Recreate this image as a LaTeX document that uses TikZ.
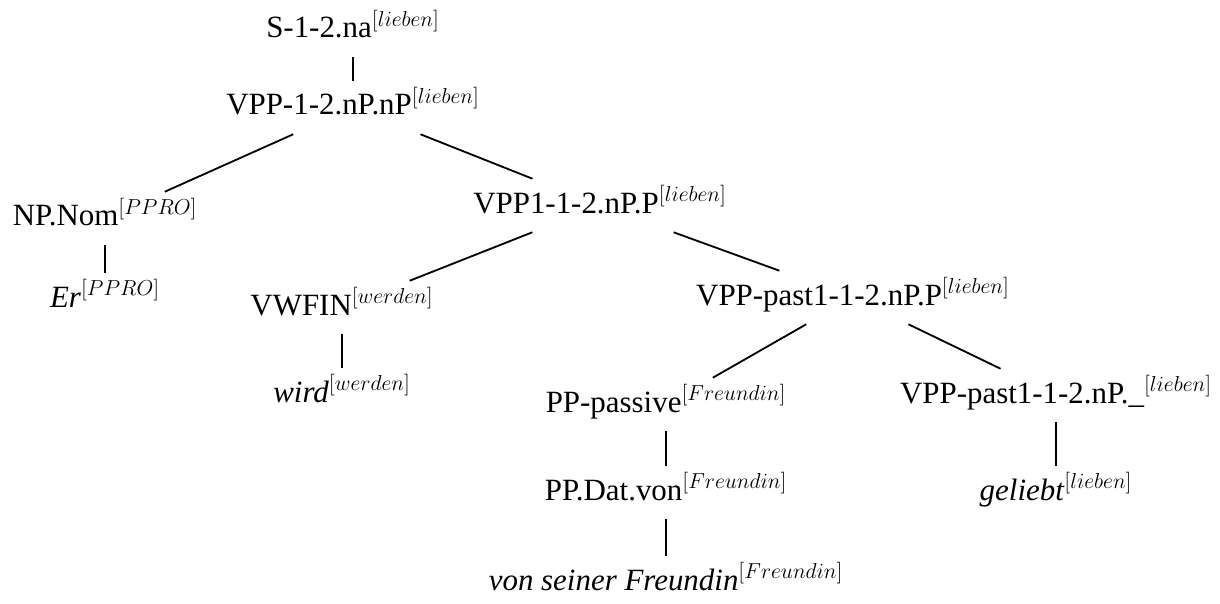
\RequirePackage{fix-cm}
\documentclass[tikz,border=0pt]{standalone}
\usepackage{amsmath}
\usepackage{fontspec}
\setmainfont{Liberation Serif}
\usepackage{tikz}
\usetikzlibrary{positioning}

\begin{document}
\begin{tikzpicture}[
    tnode/.style={font=\fontsize{22}{26}\selectfont, inner sep=0pt, text height=0.85cm, text depth=0.475cm, anchor=base},
    edge/.style={line width=1.3pt},
    ]
    \useasboundingbox (0,0) rectangle (30.5,-15.1);

    % root and verb phrase
    \node[tnode] (s) at (8.825,-0.95) {S-1-2.na$^{[lieben]}$};
    \node[tnode] (vpp) at (8.825,-2.875) {VPP-1-2.nP.nP$^{[lieben]}$};

    % subject
    \node[tnode] (npnom) at (2.625,-5.65) {NP.Nom$^{[PPRO]}$};
    \node[tnode] (er) at (2.625,-7.675) {\textit{Er}$^{[PPRO]}$};

    % finite verb and passive phrase
    \node[tnode] (vpp1) at (15.0,-5.325) {VPP1-1-2.nP.P$^{[lieben]}$};
    \node[tnode] (vwfin) at (8.55,-7.875) {VWFIN$^{[werden]}$};
    \node[tnode] (wird) at (8.55,-10.05) {\textit{wird}$^{[werden]}$};
    \node[tnode] (vpast) at (21.325,-7.625) {VPP-past1-1-2.nP.P$^{[lieben]}$};

    % agent
    \node[tnode] (pppass) at (16.65,-10.3) {PP-passive$^{[Freundin]}$};
    \node[tnode] (ppdat) at (16.65,-12.5) {PP.Dat.von$^{[Freundin]}$};
    \node[tnode] (von) at (16.65,-14.75) {\textit{von seiner Freundin}$^{[Freundin]}$};

    % participle
    \node[tnode] (vpastu) at (26.4,-10.075) {VPP-past1-1-2.nP.\_$^{[lieben]}$};
    \node[tnode] (gel) at (26.4,-12.5) {\textit{geliebt}$^{[lieben]}$};

    % edges
    \draw[edge] (s) -- (vpp);
    \draw[edge] (vpp) -- (npnom);
    \draw[edge] (vpp) -- (vpp1);
    \draw[edge] (npnom) -- (er);
    \draw[edge] (vpp1) -- (vwfin);
    \draw[edge] (vpp1) -- (vpast);
    \draw[edge] (vwfin) -- (wird);
    \draw[edge] (vpast) -- (pppass);
    \draw[edge] (vpast) -- (vpastu);
    \draw[edge] (pppass) -- (ppdat);
    \draw[edge] (ppdat) -- (von);
    \draw[edge] (vpastu) -- (gel);
\end{tikzpicture}
\end{document}
